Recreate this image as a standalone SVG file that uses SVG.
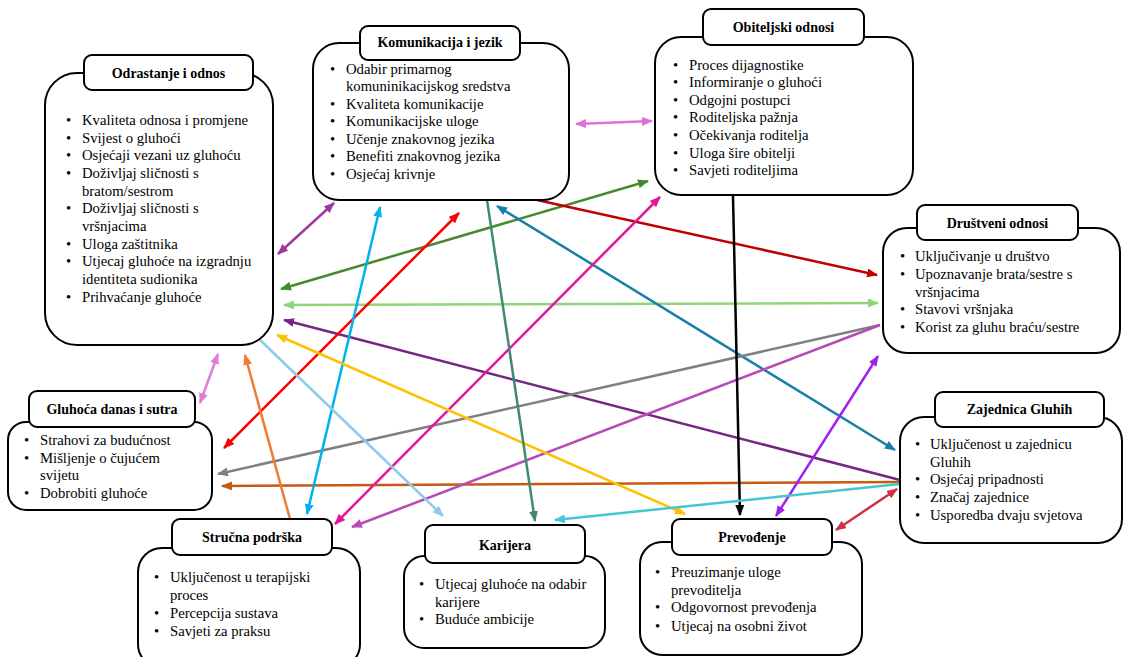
<svg xmlns="http://www.w3.org/2000/svg" width="1124" height="657" viewBox="0 0 1124 657">
<style>
.box{fill:#fff;stroke:#000;stroke-width:2}
.tb{fill:#fff;stroke:#000;stroke-width:2}
.t{font-family:"Liberation Serif","Times New Roman",serif;font-size:14.7px;fill:#000}
.h{font-family:"Liberation Serif","Times New Roman",serif;font-size:14px;font-weight:bold;fill:#000;text-anchor:middle}
.c{fill:none;stroke-width:2.5}
</style>
<defs>
<marker id="m1" markerUnits="userSpaceOnUse" markerWidth="11" markerHeight="9" refX="10" refY="4.5" orient="auto-start-reverse"><path d="M0,0L11,4.5L0,9z" fill="#e070d6"/></marker>
<marker id="m2" markerUnits="userSpaceOnUse" markerWidth="11" markerHeight="9" refX="10" refY="4.5" orient="auto-start-reverse"><path d="M0,0L11,4.5L0,9z" fill="#9e3a9e"/></marker>
<marker id="m3" markerUnits="userSpaceOnUse" markerWidth="11" markerHeight="9" refX="10" refY="4.5" orient="auto-start-reverse"><path d="M0,0L11,4.5L0,9z" fill="#448a2d"/></marker>
<marker id="m4" markerUnits="userSpaceOnUse" markerWidth="11" markerHeight="9" refX="10" refY="4.5" orient="auto-start-reverse"><path d="M0,0L11,4.5L0,9z" fill="#8fd67a"/></marker>
<marker id="m5" markerUnits="userSpaceOnUse" markerWidth="11" markerHeight="9" refX="10" refY="4.5" orient="auto-start-reverse"><path d="M0,0L11,4.5L0,9z" fill="#73287f"/></marker>
<marker id="m6" markerUnits="userSpaceOnUse" markerWidth="11" markerHeight="9" refX="10" refY="4.5" orient="auto-start-reverse"><path d="M0,0L11,4.5L0,9z" fill="#de7ddb"/></marker>
<marker id="m7" markerUnits="userSpaceOnUse" markerWidth="11" markerHeight="9" refX="10" refY="4.5" orient="auto-start-reverse"><path d="M0,0L11,4.5L0,9z" fill="#c00000"/></marker>
<marker id="m8" markerUnits="userSpaceOnUse" markerWidth="11" markerHeight="9" refX="10" refY="4.5" orient="auto-start-reverse"><path d="M0,0L11,4.5L0,9z" fill="#ff0000"/></marker>
<marker id="m9" markerUnits="userSpaceOnUse" markerWidth="11" markerHeight="9" refX="10" refY="4.5" orient="auto-start-reverse"><path d="M0,0L11,4.5L0,9z" fill="#1a7fa6"/></marker>
<marker id="m10" markerUnits="userSpaceOnUse" markerWidth="11" markerHeight="9" refX="10" refY="4.5" orient="auto-start-reverse"><path d="M0,0L11,4.5L0,9z" fill="#808080"/></marker>
<marker id="m11" markerUnits="userSpaceOnUse" markerWidth="11" markerHeight="9" refX="10" refY="4.5" orient="auto-start-reverse"><path d="M0,0L11,4.5L0,9z" fill="#c55a11"/></marker>
<marker id="m12" markerUnits="userSpaceOnUse" markerWidth="11" markerHeight="9" refX="10" refY="4.5" orient="auto-start-reverse"><path d="M0,0L11,4.5L0,9z" fill="#b54ab8"/></marker>
<marker id="m13" markerUnits="userSpaceOnUse" markerWidth="11" markerHeight="9" refX="10" refY="4.5" orient="auto-start-reverse"><path d="M0,0L11,4.5L0,9z" fill="#e4169b"/></marker>
<marker id="m14" markerUnits="userSpaceOnUse" markerWidth="11" markerHeight="9" refX="10" refY="4.5" orient="auto-start-reverse"><path d="M0,0L11,4.5L0,9z" fill="#00b0f0"/></marker>
<marker id="m15" markerUnits="userSpaceOnUse" markerWidth="11" markerHeight="9" refX="10" refY="4.5" orient="auto-start-reverse"><path d="M0,0L11,4.5L0,9z" fill="#ed7d31"/></marker>
<marker id="m16" markerUnits="userSpaceOnUse" markerWidth="11" markerHeight="9" refX="10" refY="4.5" orient="auto-start-reverse"><path d="M0,0L11,4.5L0,9z" fill="#8dcbe8"/></marker>
<marker id="m17" markerUnits="userSpaceOnUse" markerWidth="11" markerHeight="9" refX="10" refY="4.5" orient="auto-start-reverse"><path d="M0,0L11,4.5L0,9z" fill="#ffc000"/></marker>
<marker id="m18" markerUnits="userSpaceOnUse" markerWidth="11" markerHeight="9" refX="10" refY="4.5" orient="auto-start-reverse"><path d="M0,0L11,4.5L0,9z" fill="#3f8a73"/></marker>
<marker id="m19" markerUnits="userSpaceOnUse" markerWidth="11" markerHeight="9" refX="10" refY="4.5" orient="auto-start-reverse"><path d="M0,0L11,4.5L0,9z" fill="#000000"/></marker>
<marker id="m20" markerUnits="userSpaceOnUse" markerWidth="11" markerHeight="9" refX="10" refY="4.5" orient="auto-start-reverse"><path d="M0,0L11,4.5L0,9z" fill="#a020f0"/></marker>
<marker id="m21" markerUnits="userSpaceOnUse" markerWidth="11" markerHeight="9" refX="10" refY="4.5" orient="auto-start-reverse"><path d="M0,0L11,4.5L0,9z" fill="#45c7d3"/></marker>
<marker id="m22" markerUnits="userSpaceOnUse" markerWidth="11" markerHeight="9" refX="10" refY="4.5" orient="auto-start-reverse"><path d="M0,0L11,4.5L0,9z" fill="#cc3344"/></marker>
</defs>

<g id="connectors">
<line class="c" x1="576" y1="124" x2="652" y2="121" stroke="#e070d6" marker-start="url(#m1)" marker-end="url(#m1)"/>
<line class="c" x1="278" y1="254" x2="334" y2="203" stroke="#9e3a9e" marker-start="url(#m2)" marker-end="url(#m2)"/>
<line class="c" x1="281" y1="289" x2="648" y2="181" stroke="#448a2d" marker-start="url(#m3)" marker-end="url(#m3)"/>
<line class="c" x1="284" y1="305" x2="878" y2="303" stroke="#8fd67a" marker-start="url(#m4)" marker-end="url(#m4)"/>
<line class="c" x1="900" y1="480" x2="284" y2="320" stroke="#73287f" marker-end="url(#m5)"/>
<line class="c" x1="200" y1="403" x2="218" y2="354" stroke="#de7ddb" marker-start="url(#m6)" marker-end="url(#m6)"/>
<line class="c" x1="537" y1="200" x2="877" y2="275" stroke="#c00000" marker-end="url(#m7)"/>
<line class="c" x1="224" y1="448" x2="459" y2="213" stroke="#ff0000" marker-start="url(#m8)" marker-end="url(#m8)"/>
<line class="c" x1="497" y1="206" x2="895" y2="450" stroke="#1a7fa6" marker-start="url(#m9)" marker-end="url(#m9)"/>
<line class="c" x1="880" y1="325" x2="218" y2="474" stroke="#808080" marker-end="url(#m10)"/>
<line class="c" x1="900" y1="482" x2="222" y2="486" stroke="#c55a11" marker-end="url(#m11)"/>
<line class="c" x1="880" y1="325" x2="352" y2="527" stroke="#b54ab8" marker-end="url(#m12)"/>
<line class="c" x1="660" y1="197" x2="335" y2="524" stroke="#e4169b" marker-start="url(#m13)" marker-end="url(#m13)"/>
<line class="c" x1="380" y1="207" x2="307" y2="514" stroke="#00b0f0" marker-start="url(#m14)" marker-end="url(#m14)"/>
<line class="c" x1="290" y1="519" x2="245" y2="355" stroke="#ed7d31" marker-end="url(#m15)"/>
<line class="c" x1="258" y1="338" x2="443" y2="516" stroke="#8dcbe8" marker-end="url(#m16)"/>
<line class="c" x1="277" y1="335" x2="685" y2="514" stroke="#ffc000" marker-start="url(#m17)" marker-end="url(#m17)"/>
<line class="c" x1="487" y1="200" x2="535" y2="521" stroke="#3f8a73" marker-end="url(#m18)"/>
<line class="c" x1="733" y1="196" x2="740" y2="515" stroke="#000000" marker-end="url(#m19)"/>
<line class="c" x1="878" y1="356" x2="776" y2="516" stroke="#a020f0" marker-start="url(#m20)" marker-end="url(#m20)"/>
<line class="c" x1="900" y1="484" x2="555" y2="520" stroke="#45c7d3" marker-end="url(#m21)"/>
<line class="c" x1="897" y1="489" x2="836" y2="530" stroke="#cc3344" marker-start="url(#m22)" marker-end="url(#m22)"/>
</g>

<g id="odrastanje">
<rect class="box" x="45" y="73" width="228" height="272" rx="32"/>
<rect class="tb" x="84" y="55" width="169" height="35" rx="8"/>
<text class="h" x="168.5" y="78">Odrastanje i odnos</text>
<text class="t" x="66" y="125">•</text><text class="t" x="82" y="125">Kvaliteta odnosa i promjene</text>
<text class="t" x="66" y="143">•</text><text class="t" x="82" y="143">Svijest o gluhoći</text>
<text class="t" x="66" y="160">•</text><text class="t" x="82" y="160">Osjećaji vezani uz gluhoću</text>
<text class="t" x="66" y="178">•</text><text class="t" x="82" y="178">Doživljaj sličnosti s</text>
<text class="t" x="82" y="196">bratom/sestrom</text>
<text class="t" x="66" y="213">•</text><text class="t" x="82" y="213">Doživljaj sličnosti s</text>
<text class="t" x="82" y="231">vršnjacima</text>
<text class="t" x="66" y="249">•</text><text class="t" x="82" y="249">Uloga zaštitnika</text>
<text class="t" x="66" y="266">•</text><text class="t" x="82" y="266">Utjecaj gluhoće na izgradnju</text>
<text class="t" x="82" y="284">identiteta sudionika</text>
<text class="t" x="66" y="302">•</text><text class="t" x="82" y="302">Prihvaćanje gluhoće</text>
</g>

<g id="komunikacija">
<rect class="box" x="313" y="43" width="256" height="157" rx="26"/>
<rect class="tb" x="360" y="26" width="160" height="34" rx="8"/>
<text class="h" x="440" y="47">Komunikacija i jezik</text>
<text class="t" x="330" y="74">•</text><text class="t" x="346" y="74">Odabir primarnog</text>
<text class="t" x="346" y="91">komuninikacijskog sredstva</text>
<text class="t" x="330" y="109">•</text><text class="t" x="346" y="109">Kvaliteta komunikacije</text>
<text class="t" x="330" y="126">•</text><text class="t" x="346" y="126">Komunikacijske uloge</text>
<text class="t" x="330" y="144">•</text><text class="t" x="346" y="144">Učenje znakovnog jezika</text>
<text class="t" x="330" y="161">•</text><text class="t" x="346" y="161">Benefiti znakovnog jezika</text>
<text class="t" x="330" y="179">•</text><text class="t" x="346" y="179">Osjećaj krivnje</text>
</g>

<g id="obiteljski">
<rect class="box" x="655" y="37" width="258" height="158" rx="26"/>
<rect class="tb" x="703" y="9" width="161" height="36" rx="8"/>
<text class="h" x="783.5" y="32">Obiteljski odnosi</text>
<text class="t" x="673" y="70">•</text><text class="t" x="689" y="70">Proces dijagnostike</text>
<text class="t" x="673" y="87">•</text><text class="t" x="689" y="87">Informiranje o gluhoći</text>
<text class="t" x="673" y="105">•</text><text class="t" x="689" y="105">Odgojni postupci</text>
<text class="t" x="673" y="122">•</text><text class="t" x="689" y="122">Roditeljska pažnja</text>
<text class="t" x="673" y="140">•</text><text class="t" x="689" y="140">Očekivanja roditelja</text>
<text class="t" x="673" y="158">•</text><text class="t" x="689" y="158">Uloga šire obitelji</text>
<text class="t" x="673" y="175">•</text><text class="t" x="689" y="175">Savjeti roditeljima</text>
</g>

<g id="drustveni">
<rect class="box" x="883" y="228" width="237" height="125" rx="24"/>
<rect class="tb" x="917" y="205" width="161" height="35" rx="8"/>
<text class="h" x="997.5" y="228">Društveni odnosi</text>
<text class="t" x="900" y="261">•</text><text class="t" x="915" y="261">Uključivanje u društvo</text>
<text class="t" x="900" y="279">•</text><text class="t" x="915" y="279">Upoznavanje brata/sestre s</text>
<text class="t" x="915" y="297">vršnjacima</text>
<text class="t" x="900" y="314">•</text><text class="t" x="915" y="314">Stavovi vršnjaka</text>
<text class="t" x="900" y="332">•</text><text class="t" x="915" y="332">Korist za gluhu braću/sestre</text>
</g>

<g id="gluhoca">
<rect class="box" x="8" y="422" width="204" height="88" rx="18"/>
<rect class="tb" x="29" y="391" width="166" height="36" rx="8"/>
<text class="h" x="112" y="414">Gluhoća danas i sutra</text>
<text class="t" x="24" y="445">•</text><text class="t" x="40" y="445">Strahovi za budućnost</text>
<text class="t" x="24" y="463">•</text><text class="t" x="40" y="463">Mišljenje o čujućem</text>
<text class="t" x="40" y="480">svijetu</text>
<text class="t" x="24" y="498">•</text><text class="t" x="40" y="498">Dobrobiti gluhoće</text>
</g>

<g id="zajednica">
<rect class="box" x="900" y="417" width="222" height="126" rx="24"/>
<rect class="tb" x="935" y="392" width="169" height="35" rx="8"/>
<text class="h" x="1019.5" y="414">Zajednica Gluhih</text>
<text class="t" x="915" y="449">•</text><text class="t" x="930" y="449">Uključenost u zajednicu</text>
<text class="t" x="930" y="467">Gluhih</text>
<text class="t" x="915" y="484">•</text><text class="t" x="930" y="484">Osjećaj pripadnosti</text>
<text class="t" x="915" y="502">•</text><text class="t" x="930" y="502">Značaj zajednice</text>
<text class="t" x="915" y="520">•</text><text class="t" x="930" y="520">Usporedba dvaju svjetova</text>
</g>

<g id="strucna">
<rect class="box" x="138" y="548" width="222" height="120" rx="24"/>
<rect class="tb" x="172" y="519" width="160" height="36" rx="8"/>
<text class="h" x="252" y="542">Stručna podrška</text>
<text class="t" x="154" y="582">•</text><text class="t" x="170" y="582">Uključenost u terapijski</text>
<text class="t" x="170" y="600">proces</text>
<text class="t" x="154" y="618">•</text><text class="t" x="170" y="618">Percepcija sustava</text>
<text class="t" x="154" y="636">•</text><text class="t" x="170" y="636">Savjeti za praksu</text>
</g>

<g id="karijera">
<rect class="box" x="404" y="556" width="201" height="92" rx="20"/>
<rect class="tb" x="425" y="525" width="160" height="38" rx="8"/>
<text class="h" x="505" y="550">Karijera</text>
<text class="t" x="419" y="589">•</text><text class="t" x="435" y="589">Utjecaj gluhoće na odabir</text>
<text class="t" x="435" y="607">karijere</text>
<text class="t" x="419" y="624">•</text><text class="t" x="435" y="624">Buduće ambicije</text>
</g>

<g id="prevodenje">
<rect class="box" x="640" y="542" width="222" height="113" rx="22"/>
<rect class="tb" x="672" y="519" width="160" height="36" rx="8"/>
<text class="h" x="752" y="542">Prevođenje</text>
<text class="t" x="655" y="577">•</text><text class="t" x="671" y="577">Preuzimanje uloge</text>
<text class="t" x="671" y="595">prevoditelja</text>
<text class="t" x="655" y="612">•</text><text class="t" x="671" y="612">Odgovornost prevođenja</text>
<text class="t" x="655" y="631">•</text><text class="t" x="671" y="631">Utjecaj na osobni život</text>
</g>
</svg>
